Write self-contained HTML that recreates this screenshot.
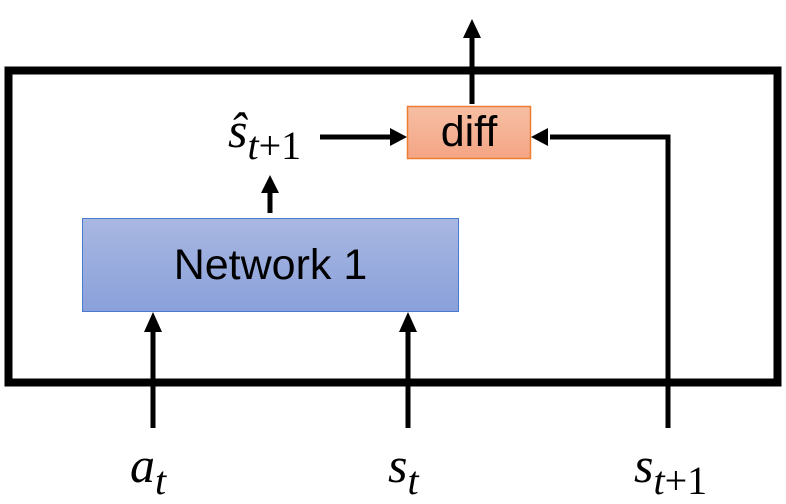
<!DOCTYPE html>
<html><head><style>
body{margin:0;width:786px;height:504px;background:#fff;overflow:hidden;position:relative}
.t{position:absolute;font-family:"Liberation Serif",serif;font-style:italic;font-size:50px;line-height:1;color:#000;white-space:nowrap}
.t sub{font-size:40px;vertical-align:-12px}
.t sub span{font-style:normal}
.b{position:absolute;font-family:"Liberation Sans",sans-serif;color:#000;display:flex;align-items:center;justify-content:center}
</style></head><body>
<svg width="786" height="504" style="position:absolute;left:0;top:0">
<defs>
<linearGradient id="g1" x1="0" y1="0" x2="0" y2="1"><stop offset="0" stop-color="#a9b8e2"/><stop offset="1" stop-color="#8aa0da"/></linearGradient>
<linearGradient id="g2" x1="0" y1="0" x2="0" y2="1"><stop offset="0" stop-color="#f6bfa4"/><stop offset="1" stop-color="#f4a584"/></linearGradient>
</defs>
<rect x="8.5" y="70.5" width="769" height="312" fill="none" stroke="#000" stroke-width="8"/>
<rect x="82.5" y="218.5" width="376" height="93" fill="url(#g1)" stroke="#4a7bd0" stroke-width="1"/>
<rect x="407.5" y="106.5" width="123" height="52" fill="url(#g2)" stroke="#ed7d31" stroke-width="1.5"/>
<g stroke="#000" stroke-width="5" fill="none">
<line x1="153" y1="428" x2="153" y2="330"/>
<line x1="408" y1="428" x2="408" y2="330"/>
<polyline points="668,428 668,137 550,137"/>
<line x1="320" y1="137" x2="392" y2="137"/>
<line x1="270" y1="213" x2="270" y2="190"/>
<line x1="472" y1="104" x2="472" y2="35"/>
</g>
<g fill="#000">
<polygon points="144,332 162,332 153,312"/>
<polygon points="399,332 417,332 408,312"/>
<polygon points="390,128 390,146 407,137"/>
<polygon points="548,128 548,146 531,137"/>
<polygon points="261,193 279,193 270,175"/>
<polygon points="463,38 481,38 472,19"/>
</g>
</svg>
<div class="b" style="left:82px;top:218px;width:377px;height:94px;font-size:43px">Network 1</div>
<div class="b" style="left:407px;top:106px;width:124px;height:53px;font-size:43px">diff</div>
<div class="t" style="left:228px;top:105px">ŝ<sub>t<span>+1</span></sub></div>
<div class="t" style="left:130px;top:440px">a<sub>t</sub></div>
<div class="t" style="left:388px;top:440px">s<sub>t</sub></div>
<div class="t" style="left:634px;top:440px">s<sub>t<span>+1</span></sub></div>
</body></html>
